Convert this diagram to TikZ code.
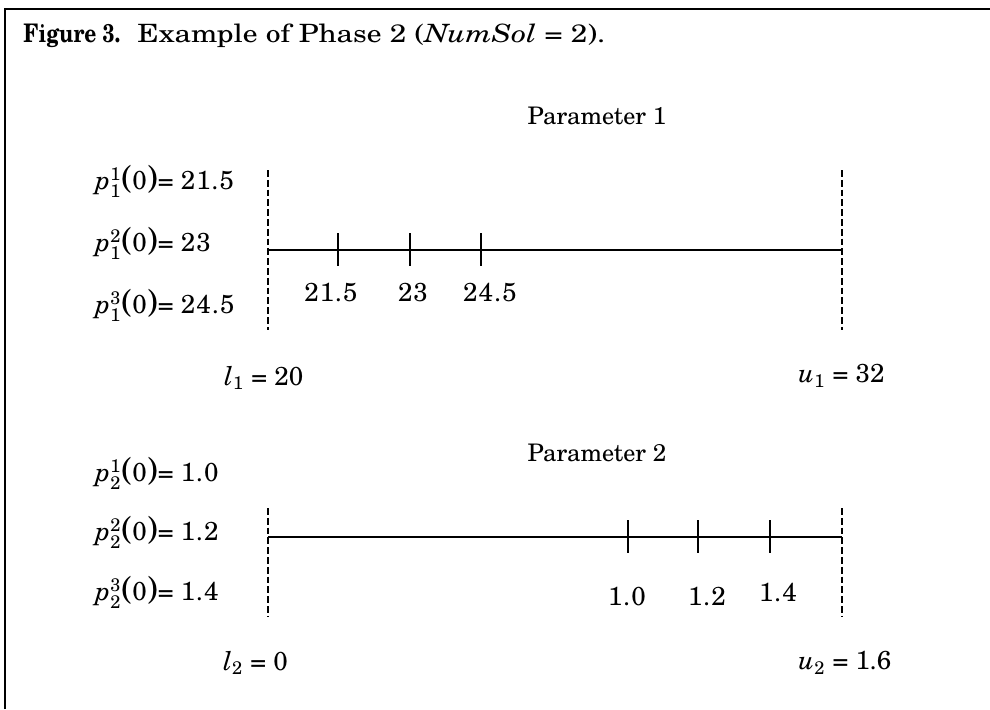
\documentclass[tikz,border=0pt]{standalone}
\usepackage{amsmath}
\usepackage{fontspec}
\setmainfont{TeX Gyre Schola}
\newcommand{\bpar}[1]{{\fontsize{16.5}{16}\selectfont #1}}
\newcommand{\pv}[2]{$\textit{p}^{\text{#1}}_{\text{#2}}$\bpar{(}0\bpar{)}}
\begin{document}
\begin{tikzpicture}[x=0.5pt,y=-0.5pt,
  lab/.style={inner sep=0pt, font=\fontsize{13}{15}\selectfont},
  plab/.style={inner sep=0pt, font=\fontsize{12.1}{14}\selectfont},
  axisline/.style={line width=0.85pt},
  bound/.style={line width=0.95pt, dash pattern=on 3.4pt off 1.5pt},
  tick/.style={line width=0.85pt},
  frame/.style={line width=1.2pt}]
\useasboundingbox (0,0) rectangle (990,709);
% frame
\coordinate (fbl) at (5,709);
\coordinate (ftr) at (990,9);
\draw[frame] (fbl) |- (ftr);
% title
\node[inner sep=0pt, anchor=base west] (fig) at (23,42) {\resizebox{48.5pt}{\height}{\fontsize{12.8}{15}\selectfont\bfseries Figure 3.}};
\node[inner sep=0pt, anchor=base west] (title) at (137,42) {\resizebox{234pt}{\height}{\fontsize{12.6}{15}\selectfont Example of Phase 2 (\textit{NumSol} = 2).}};

% ---------- Parameter 1 ----------
\node[plab] (par1) at (597,116) {Parameter 1};
\coordinate (l1top) at (268,170);
\coordinate (l1bot) at (268,330);
\coordinate (u1top) at (842,170);
\coordinate (u1bot) at (842,330);
\draw[bound] (l1top) -- (l1bot);
\draw[bound] (u1top) -- (u1bot);
\coordinate (a1s) at (268,250);
\coordinate (a1e) at (842,250);
\draw[axisline] (a1s) -- (a1e);
\foreach \x/\n in {338/a,410/b,481/c}{
  \coordinate (t1\n u) at (\x,233);
  \coordinate (t1\n d) at (\x,266);
  \draw[tick] (t1\n u) -- (t1\n d);
}
\node[lab] (v1a) at (331,293) {\addfontfeature{LetterSpace=4}21.5};
\node[lab] (v1b) at (413,293) {\addfontfeature{LetterSpace=4}23};
\node[lab] (v1c) at (490,293) {\addfontfeature{LetterSpace=4}24.5};
\node[lab, anchor=west] (p11) at (95,181) {\pv{1}{1}= {\addfontfeature{LetterSpace=4}21.5}};
\node[lab, anchor=west] (p12) at (95,243) {\pv{2}{1}= {\addfontfeature{LetterSpace=4}23}};
\node[lab, anchor=west] (p13) at (95,305) {\pv{3}{1}= {\addfontfeature{LetterSpace=4}24.5}};
\node[lab, anchor=west] (l1) at (224,378) {$\textit{l}_{\text{1}}$ = 20};
\node[lab, anchor=west] (u1) at (798,376) {$\textit{u}_{\text{1}}$ = 32};

% ---------- Parameter 2 ----------
\node[plab] (par2) at (597,453) {Parameter 2};
\coordinate (l2top) at (268,508);
\coordinate (l2bot) at (268,617);
\coordinate (u2top) at (842,508);
\coordinate (u2bot) at (842,617);
\draw[bound] (l2top) -- (l2bot);
\draw[bound] (u2top) -- (u2bot);
\coordinate (a2s) at (268,537);
\coordinate (a2e) at (842,537);
\draw[axisline] (a2s) -- (a2e);
\foreach \x/\n in {628/a,698/b,770/c}{
  \coordinate (t2\n u) at (\x,520);
  \coordinate (t2\n d) at (\x,553);
  \draw[tick] (t2\n u) -- (t2\n d);
}
\node[lab] (v2a) at (627,597) {\addfontfeature{LetterSpace=4}1.0};
\node[lab] (v2b) at (707,597) {\addfontfeature{LetterSpace=4}1.2};
\node[lab] (v2c) at (778,593) {\addfontfeature{LetterSpace=4}1.4};
\node[lab, anchor=west] (p21) at (95,473) {\pv{1}{2}= {\addfontfeature{LetterSpace=4}1.0}};
\node[lab, anchor=west] (p22) at (95,532) {\pv{2}{2}= {\addfontfeature{LetterSpace=4}1.2}};
\node[lab, anchor=west] (p23) at (95,592) {\pv{3}{2}= {\addfontfeature{LetterSpace=4}1.4}};
\node[lab, anchor=west] (l2) at (223,663) {$\textit{l}_{\text{2}}$ = 0};
\node[lab, anchor=west] (u2) at (798,663) {$\textit{u}_{\text{2}}$ = 1.6};
\end{tikzpicture}
\end{document}
